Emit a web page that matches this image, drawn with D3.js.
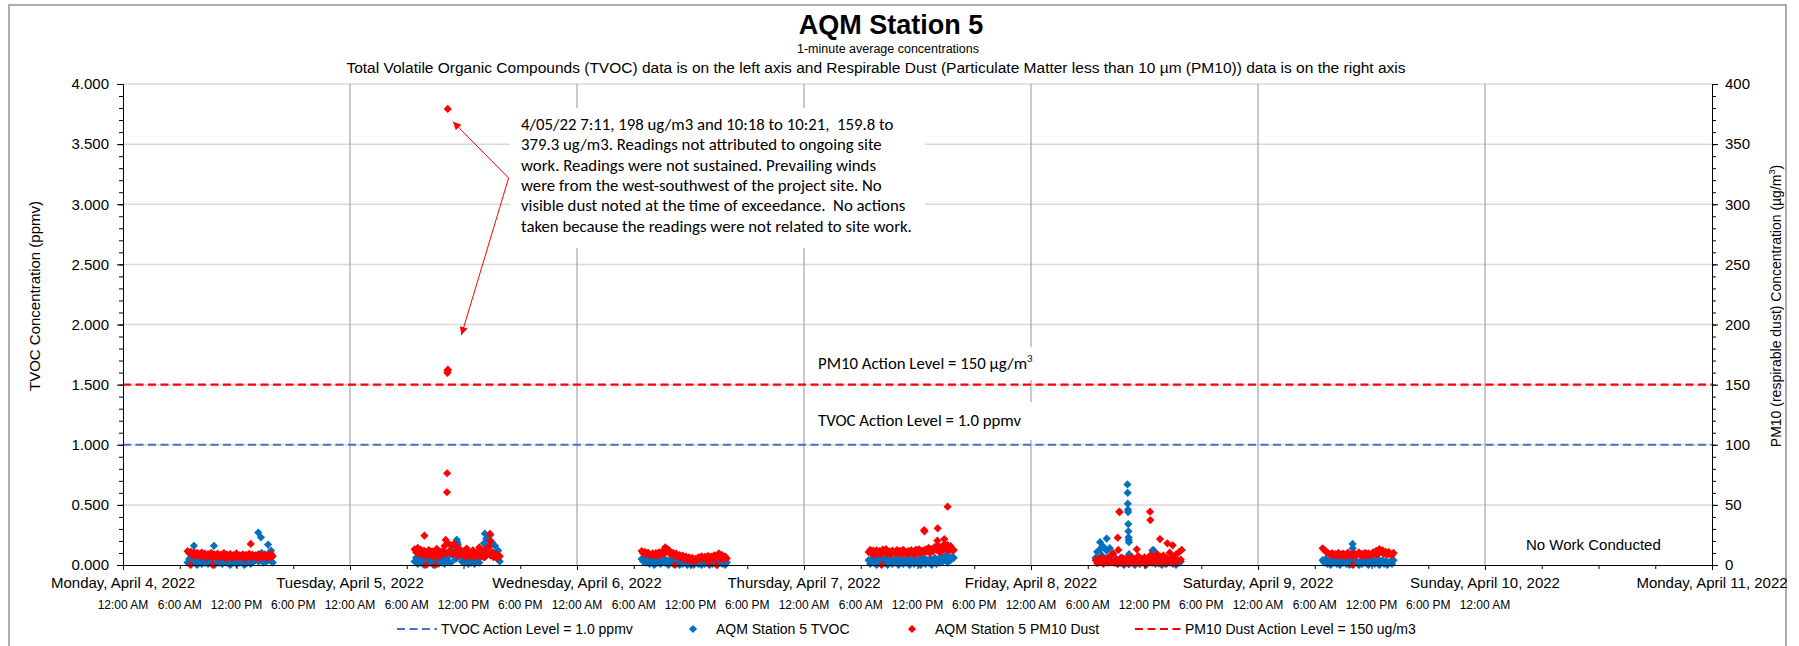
<!DOCTYPE html>
<html>
<head>
<meta charset="utf-8">
<script src="https://cdn.jsdelivr.net/npm/d3@7"></script>
<style>
  body { margin: 0; background: #fff; }
  svg text { font-family: "Liberation Sans", Arial, sans-serif; fill: #000; }
  svg .note { font-family: Carlito, Calibri, Lato, sans-serif; }
</style>
</head>
<body>
<svg id="chart" width="1799" height="646"></svg>
<script>
// ---- data ----
const weekStart = "2022-04-04T00:00";
const weekEnd = "2022-04-11T00:00";
const dayStarts = ["2022-04-04T06:50", "2022-04-05T06:50", "2022-04-06T06:50",
                   "2022-04-07T06:50", "2022-04-08T06:50", "2022-04-09T06:50"];
const stepMinutes = 10;

const tvocApr4 = [0.02,0.05,0.01,0.04,0.03,0.06,0.00, 0.03,0.05,0.01,0.04,0.02,0.06,
  0.01,0.04,0.03,0.05,0.00,0.03, 0.04,0.02,0.06,0.01,0.05,0.03, 0.02,0.05,0.00,0.04,0.03,0.06,
  0.01,0.04,0.02,0.05,0.03,0.00, 0.05,0.02,0.04,0.01,0.06,0.03, 0.04,0.08,0.03,0.05,0.10,0.02,
  0.06,0.03,0.09,0.04,0.07,0.02];
const tvocApr5 = [0.03,0.06,0.01,0.05,0.02,0.07,0.00, 0.04,0.01,0.06,0.02,0.05,0.00,
  0.03,0.06,0.01,0.04,0.02,0.05, 0.01,0.06,0.03,0.08,0.02,0.10, 0.14,0.05,0.19,0.08,0.12,0.03,
  0.06,0.02,0.05,0.01,0.04,0.02, 0.05,0.01,0.03,0.06,0.02,0.08, 0.12,0.18,0.07,0.22,0.15,0.25,
  0.19,0.10,0.16,0.06,0.12,0.03];
const tvocApr6 = [0.05,0.03,0.06,0.02,0.04,0.01,0.05, 0.03,0.00,0.04,0.02,0.05,0.01,
  0.03,0.05,0.02,0.04,0.00,0.03, 0.05,0.01,0.03,0.04,0.02,0.00, 0.03,0.01,0.04,0.02,0.00,0.03,
  0.01,0.03,0.00,0.02,0.04,0.01, 0.02,0.00,0.03,0.01,0.04,0.02, 0.00,0.03,0.01,0.02,0.04,0.00,
  0.02,0.04,0.01,0.03,0.00,0.02];
const tvocApr7 = [0.04,0.01,0.05,0.02,0.06,0.00,0.03, 0.05,0.01,0.04,0.02,0.06,0.00,
  0.03,0.05,0.01,0.04,0.02,0.06, 0.00,0.03,0.05,0.01,0.04,0.02, 0.06,0.00,0.03,0.05,0.01,0.04,
  0.02,0.05,0.00,0.03,0.06,0.01, 0.04,0.02,0.05,0.00,0.03,0.06, 0.01,0.04,0.02,0.07,0.03,0.05,
  0.08,0.02,0.06,0.04,0.07,0.06];
const tvocApr8 = [0.06,0.11,0.03,0.13,0.08,0.15,0.04, 0.12,0.06,0.14,0.03,0.09,0.02,
  0.05,0.01,0.04,0.02,0.06,0.00, 0.03,0.05,0.01,0.04,0.02,0.05, 0.00,0.03,0.06,0.01,0.04,0.02,
  0.05,0.00,0.03,0.07,0.02,0.12, 0.04,0.01,0.05,0.02,0.06,0.00, 0.03,0.05,0.01,0.04,0.02,0.06,
  0.01,0.03,0.00,0.04,0.02,0.03];
const tvocApr9 = [0.04,0.02,0.05,0.01,0.03,0.00,0.04, 0.02,0.05,0.01,0.03,0.00,0.04,
  0.02,0.05,0.01,0.03,0.00,0.04, 0.03,0.01,0.04,0.02,0.00,0.03, 0.01,0.04,0.02,0.05,0.00,0.03,
  0.02,0.04,0.01,0.03,0.05,0.00, 0.02,0.04,0.01,0.03,0.00,0.02, 0.03,0.01,0.04];

const pm10Apr4 = [11.5,9.8,11.0,8.2,10.4,7.6,10.1, 9.2,6.8,10.3,7.9,9.5,6.2,
  9.0,7.4,10.0,6.5,8.8,7.1, 9.4,6.0,8.5,7.8,9.9,5.8, 8.7,6.6,9.1,5.9,8.2,7.0,
  9.6,6.3,8.0,7.2,8.9,5.5, 8.4,6.9,9.3,6.1,8.6,7.5, 8.1,5.7,9.0,6.4,7.7,6.8,
  8.8,5.9,7.9,6.6,9.2,7.3];
const pm10Apr5 = [13.0,10.5,14.2,9.1,12.6,8.4,11.8, 10.9,7.5,12.3,8.8,11.4,6.9,
  10.2,13.5,7.2,11.1,8.3,12.0, 15.8,9.5,18.2,11.7,16.4,8.9, 17.5,10.8,14.9,7.6,12.8,9.9,
  11.3,6.8,13.7,8.1,10.6,7.4, 12.1,6.5,10.4,8.7,14.6,7.1, 11.8,6.3,12.9,9.4,15.2,8.0,
  10.7,6.6,9.3,5.9,8.5,7.2];
const pm10Apr6 = [11.6,9.8,10.9,8.7,10.2,9.1,8.4, 9.6,8.0,9.9,7.8,10.5,8.6,
  11.2,9.0,14.7,11.5,12.8,9.3, 8.5,10.1,7.7,9.4,6.9,8.2, 6.1,7.8,5.2,7.0,4.6,6.4,
  3.8,5.9,2.9,5.1,4.2,6.3, 4.9,7.2,5.6,6.8,4.4,7.5, 5.8,7.0,6.2,8.1,5.3,7.4,
  9.7,6.0,8.3,4.8,7.1,5.5];
const pm10Apr7 = [10.8,12.5,9.4,11.9,8.6,12.2,10.1, 11.6,9.0,12.8,10.3,13.1,9.5,
  11.4,8.8,12.0,10.6,9.7,12.4, 10.0,11.8,8.9,12.6,10.4,9.2, 11.5,9.6,12.3,10.9,8.7,12.7,
  10.2,13.0,9.8,11.7,10.5,12.9, 11.1,14.2,9.9,13.4,11.8,15.0, 12.6,16.1,10.7,14.8,12.2,17.3,
  13.5,16.8,11.9,15.6,13.1,12.4];
const pm10Apr8 = [4.0,1.5,5.2,2.4,6.1,1.0,3.8, 5.5,2.0,7.2,3.1,9.8,1.8,
  4.6,0.9,3.5,6.0,1.6,4.9, 2.2,5.7,0.8,3.9,6.6,1.3, 4.3,2.5,7.4,1.1,5.0,3.2,
  6.4,0.7,4.1,2.7,8.3,1.9, 5.4,3.0,9.1,1.4,6.9,2.9, 7.8,1.2,5.9,3.6,10.2,2.1,
  6.3,1.7,8.7,3.3,11.0,4.5];
const pm10Apr9 = [13.9,12.6,11.4,10.2,9.3,8.6,9.8, 7.9,9.1,8.3,10.0,7.4,8.8,
  9.5,7.2,8.6,10.3,7.8,9.0, 8.1,9.7,7.5,8.9,10.4,8.0, 9.2,7.6,10.1,8.4,9.6,7.7,
  8.9,10.6,9.3,11.8,8.7,13.3, 10.9,12.2,9.4,11.0,8.5,10.7, 9.1,8.3,10.0];

const tvocByDay = [tvocApr4, tvocApr5, tvocApr6, tvocApr7, tvocApr8, tvocApr9];
const pm10ByDay = [pm10Apr4, pm10Apr5, pm10Apr6, pm10Apr7, pm10Apr8, pm10Apr9];

// isolated readings that stand out of the daily bands
const tvocSpikes = [
  ["2022-04-04T07:30", 0.16], ["2022-04-04T09:37", 0.16], ["2022-04-04T14:18", 0.27],
  ["2022-04-04T14:35", 0.23], ["2022-04-04T15:20", 0.17], ["2022-04-04T15:39", 0.12],
  ["2022-04-05T11:17", 0.21], ["2022-04-05T11:24", 0.17], ["2022-04-05T14:16", 0.26],
  ["2022-04-05T14:25", 0.22],
  ["2022-04-08T07:18", 0.19], ["2022-04-08T07:29", 0.15], ["2022-04-08T08:00", 0.22],
  ["2022-04-08T10:12", 0.67], ["2022-04-08T10:13", 0.60], ["2022-04-08T10:14", 0.51],
  ["2022-04-08T10:15", 0.46], ["2022-04-08T10:16", 0.44], ["2022-04-08T10:17", 0.34],
  ["2022-04-08T10:18", 0.28], ["2022-04-08T10:19", 0.23], ["2022-04-08T10:20", 0.21],
  ["2022-04-08T10:21", 0.19], ["2022-04-08T10:22", 0.09], ["2022-04-08T12:56", 0.125],
  ["2022-04-09T10:00", 0.175], ["2022-04-09T10:01", 0.14]
];
const pm10Spikes = [
  ["2022-04-04T07:09", 0], ["2022-04-04T09:29", 0], ["2022-04-04T13:30", 17.5],
  ["2022-04-05T07:52", 24.4], ["2022-04-05T08:02", 0], ["2022-04-05T09:01", 0],
  ["2022-04-05T10:07", 20.8], ["2022-04-05T10:15", 60.5], ["2022-04-05T10:16", 76.3],
  ["2022-04-05T10:18", 159.8], ["2022-04-05T10:19", 161.5], ["2022-04-05T10:20", 379.3],
  ["2022-04-05T10:21", 162.4], ["2022-04-05T14:48", 25.8], ["2022-04-05T14:50", 20.2],
  ["2022-04-06T10:22", 0], ["2022-04-06T13:58", 1.5], ["2022-04-06T14:46", 0],
  ["2022-04-07T08:13", 0], ["2022-04-07T12:42", 29.1], ["2022-04-07T12:44", 28.0],
  ["2022-04-07T14:06", 20.2], ["2022-04-07T14:08", 30.5], ["2022-04-07T14:50", 21.6],
  ["2022-04-07T15:11", 48.5],
  ["2022-04-08T09:10", 22.7], ["2022-04-08T09:14", 12.5], ["2022-04-08T09:20", 44.3],
  ["2022-04-08T09:22", 44.0], ["2022-04-08T11:11", 13.0], ["2022-04-08T12:35", 44.3],
  ["2022-04-08T12:37", 37.4], ["2022-04-08T13:38", 21.6], ["2022-04-08T14:25", 18.0],
  ["2022-04-08T14:59", 16.4], ["2022-04-08T15:56", 12.5],
  ["2022-04-09T10:01", 0]
];

const tvocActionLevel = 1.0;   // ppmv
const pm10ActionLevel = 150;   // ug/m3

const noteLines = [
  "4/05/22 7:11, 198 ug/m3 and 10:18 to 10:21,  159.8 to",
  "379.3 ug/m3. Readings not attributed to ongoing site",
  "work. Readings were not sustained. Prevailing winds",
  "were from the west-southwest of the project site. No",
  "visible dust noted at the time of exceedance.  No actions",
  "taken because the readings were not related to site work."
];

// ---- setup ----
const parse = d3.timeParse("%Y-%m-%dT%H:%M");
const svg = d3.select("#chart");
const margin = { top: 84, right: 87, bottom: 81, left: 123 };
const W = 1799, H = 646;
const innerBottom = H - margin.bottom;

const x = d3.scaleTime().domain([parse(weekStart), parse(weekEnd)]).range([margin.left, W - margin.right]);
const yL = d3.scaleLinear().domain([0, 4]).range([innerBottom, margin.top]);
const yR = d3.scaleLinear().domain([0, 400]).range([innerBottom, margin.top]);

const blue = "#0070C0", red = "#FF0000", lineBlue = "#4472C4";

function series(byDay, spikes) {
  const pts = [];
  byDay.forEach((vals, i) => {
    const t0 = parse(dayStarts[i]).getTime();
    vals.forEach((v, j) => pts.push({ t: new Date(t0 + j * stepMinutes * 60000), v }));
  });
  spikes.forEach(([t, v]) => pts.push({ t: parse(t), v }));
  return pts;
}
const tvoc = series(tvocByDay, tvocSpikes);
const pm10 = series(pm10ByDay, pm10Spikes);

svg.append("rect").attr("width", W).attr("height", H).attr("fill", "#fff");
svg.append("rect").attr("x", 9).attr("y", 5).attr("width", 1777).attr("height", 700)
  .attr("fill", "none").attr("stroke", "#808080").attr("stroke-width", 1.3);

// titles
svg.append("text").attr("x", 891).attr("y", 34).attr("text-anchor", "middle")
  .attr("font-size", 27).attr("font-weight", "bold").text("AQM Station 5");
svg.append("text").attr("x", 888).attr("y", 53).attr("text-anchor", "middle")
  .attr("font-size", 12.5).text("1-minute average concentrations");
svg.append("text").attr("x", 876).attr("y", 73).attr("text-anchor", "middle")
  .attr("font-size", 15.5)
  .text("Total Volatile Organic Compounds (TVOC) data is on the left axis and Respirable Dust (Particulate Matter less than 10 µm (PM10)) data is on the right axis");

// gridlines
const days = d3.timeDay.range(parse(weekStart), d3.timeDay.offset(parse(weekEnd), 1));
svg.append("g").selectAll("line").data(d3.range(0.5, 4.001, 0.5)).join("line")
  .attr("x1", margin.left).attr("x2", W - margin.right)
  .attr("y1", d => yL(d)).attr("y2", d => yL(d))
  .attr("stroke", "#d9d9d9").attr("stroke-width", 1.5);
svg.append("g").selectAll("line").data(days.slice(1, -1)).join("line")
  .attr("x1", d => x(d)).attr("x2", d => x(d))
  .attr("y1", margin.top).attr("y2", innerBottom)
  .attr("stroke", "#a6a6a6").attr("stroke-width", 1.2);

// action level labels with white boxes
const labelG = svg.append("g");
labelG.append("rect").attr("x", 808).attr("y", 347).attr("width", 232).attr("height", 33).attr("fill", "#fff");
labelG.append("rect").attr("x", 808).attr("y", 402).attr("width", 232).attr("height", 38).attr("fill", "#fff");
const pmLabel = labelG.append("text").attr("class", "note").attr("x", 818).attr("y", 369);
pmLabel.append("tspan").text("PM10 Action Level = 150 µg/m");
pmLabel.append("tspan").attr("font-size", "0.65em").attr("dy", -7).text("3");
const tvLabel = labelG.append("text").attr("class", "note").attr("x", 818).attr("y", 426)
  .text("TVOC Action Level = 1.0 ppmv");

// action lines
svg.append("line").attr("x1", margin.left).attr("x2", W - margin.right)
  .attr("y1", yL(tvocActionLevel)).attr("y2", yL(tvocActionLevel))
  .attr("stroke", lineBlue).attr("stroke-width", 2.2).attr("stroke-dasharray", "8,4.5");
svg.append("line").attr("x1", margin.left).attr("x2", W - margin.right)
  .attr("y1", yR(pm10ActionLevel)).attr("y2", yR(pm10ActionLevel))
  .attr("stroke", red).attr("stroke-width", 2.2).attr("stroke-dasharray", "8,4.5");

// markers
const diamond = d3.symbol(d3.symbolSquare, 34)();
svg.append("g").selectAll("path").data(tvoc).join("path")
  .attr("d", diamond).attr("fill", blue)
  .attr("transform", d => `translate(${x(d.t)},${yL(d.v)}) rotate(45)`);
svg.append("g").selectAll("path").data(pm10).join("path")
  .attr("d", diamond).attr("fill", red)
  .attr("transform", d => `translate(${x(d.t)},${yR(d.v)}) rotate(45)`);

// axes
function styleAxis(g) {
  g.attr("font-family", null).attr("font-size", null);
  g.selectAll("path, line").attr("stroke", "#000");
  g.selectAll("text").attr("font-size", 15);
}
const leftMajor = d3.range(0, 4.001, 0.5), leftMinor = d3.range(0, 4.001, 0.1);
svg.append("g").attr("transform", `translate(${margin.left},0)`)
  .call(d3.axisLeft(yL).tickValues(leftMinor).tickSize(4).tickSizeOuter(0).tickFormat(""))
  .call(styleAxis);
svg.append("g").attr("transform", `translate(${margin.left},0)`)
  .call(d3.axisLeft(yL).tickValues(leftMajor).tickSize(6).tickPadding(8).tickSizeOuter(0).tickFormat(d3.format(".3f")))
  .call(styleAxis);
svg.append("g").attr("transform", `translate(${W - margin.right},0)`)
  .call(d3.axisRight(yR).tickValues(d3.range(0, 401, 10)).tickSize(4).tickSizeOuter(0).tickFormat(""))
  .call(styleAxis);
svg.append("g").attr("transform", `translate(${W - margin.right},0)`)
  .call(d3.axisRight(yR).tickValues(d3.range(0, 401, 50)).tickSize(6).tickPadding(7).tickSizeOuter(0))
  .call(styleAxis);
svg.append("g").attr("transform", `translate(0,${innerBottom})`)
  .call(d3.axisBottom(x).ticks(d3.timeHour.every(6)).tickSize(4).tickSizeOuter(0).tickFormat(""))
  .call(styleAxis);
svg.append("g").attr("transform", `translate(0,${innerBottom})`)
  .call(d3.axisBottom(x).tickValues(days).tickSize(5).tickSizeOuter(0).tickFormat(""))
  .call(styleAxis);

// day and time labels
svg.append("g").selectAll("text").data(days).join("text")
  .attr("x", d => x(d)).attr("y", 588).attr("text-anchor", "middle").attr("font-size", 15)
  .text(d3.timeFormat("%A, %B %-d, %Y"));
const hours = d3.timeHour.every(6).range(parse(weekStart), d3.timeMinute.offset(parse("2022-04-10T00:00"), 1));
svg.append("g").selectAll("text").data(hours).join("text")
  .attr("x", d => x(d)).attr("y", 609).attr("text-anchor", "middle").attr("font-size", 12)
  .text(d3.timeFormat("%-I:%M %p"));

// axis titles
svg.append("text").attr("transform", "translate(40,296) rotate(-90)").attr("text-anchor", "middle")
  .attr("font-size", 15).text("TVOC Concentration (ppmv)");
const rt = svg.append("text").attr("transform", "translate(1781,306) rotate(-90)").attr("text-anchor", "middle")
  .attr("font-size", 14);
rt.append("tspan").text("PM10 (respirable dust) Concentration (µg/m");
rt.append("tspan").attr("font-size", "0.65em").attr("dy", -6).text("3");
rt.append("tspan").attr("dy", 6).text(")");

svg.append("text").attr("x", 1526).attr("y", 550).attr("font-size", 15).text("No Work Conducted");

// annotation
svg.append("rect").attr("x", 510).attr("y", 108).attr("width", 415).attr("height", 140).attr("fill", "#fff");
const note = svg.append("text").attr("class", "note").attr("xml:space", "preserve");
note.selectAll("tspan").data(noteLines).join("tspan")
  .attr("x", 521).attr("y", (d, i) => 130 + i * 20.3).text(d => d);
note.attr("font-size", 16);
const w6 = note.selectAll("tspan").nodes()[5].getComputedTextLength();
const noteSize = 16 * 391 / w6;
note.attr("font-size", noteSize);
pmLabel.attr("font-size", noteSize);
tvLabel.attr("font-size", noteSize);

const defs = svg.append("defs");
defs.append("marker").attr("id", "arr").attr("viewBox", "0 0 10 10")
  .attr("refX", 10).attr("refY", 5).attr("markerWidth", 9).attr("markerHeight", 8)
  .attr("orient", "auto")
  .append("path").attr("d", "M0,0 L10,5 L0,10 z").attr("fill", red);
const arrowFrom = [508.6, 178];
[[453, 121.7], [461.4, 335]].forEach(([tx, ty]) => {
  svg.append("line").attr("x1", arrowFrom[0]).attr("y1", arrowFrom[1])
    .attr("x2", tx).attr("y2", ty).attr("stroke", red).attr("stroke-width", 1)
    .attr("marker-end", "url(#arr)");
});

// legend
const lg = svg.append("g").attr("font-size", 14);
const ly = 629;
lg.append("line").attr("x1", 397).attr("x2", 437).attr("y1", ly).attr("y2", ly)
  .attr("stroke", lineBlue).attr("stroke-width", 2.2).attr("stroke-dasharray", "8,4.5");
lg.append("text").attr("x", 441).attr("y", ly + 5).text("TVOC Action Level = 1.0 ppmv");
lg.append("path").attr("d", diamond).attr("fill", blue).attr("transform", `translate(693,${ly}) rotate(45)`);
lg.append("text").attr("x", 716).attr("y", ly + 5).text("AQM Station 5 TVOC");
lg.append("path").attr("d", diamond).attr("fill", red).attr("transform", `translate(912,${ly}) rotate(45)`);
lg.append("text").attr("x", 935).attr("y", ly + 5).text("AQM Station 5 PM10 Dust");
lg.append("line").attr("x1", 1135).attr("x2", 1183).attr("y1", ly).attr("y2", ly)
  .attr("stroke", red).attr("stroke-width", 2.2).attr("stroke-dasharray", "8,4.5");
lg.append("text").attr("x", 1185).attr("y", ly + 5).text("PM10 Dust Action Level = 150 ug/m3");
</script>
</body>
</html>
